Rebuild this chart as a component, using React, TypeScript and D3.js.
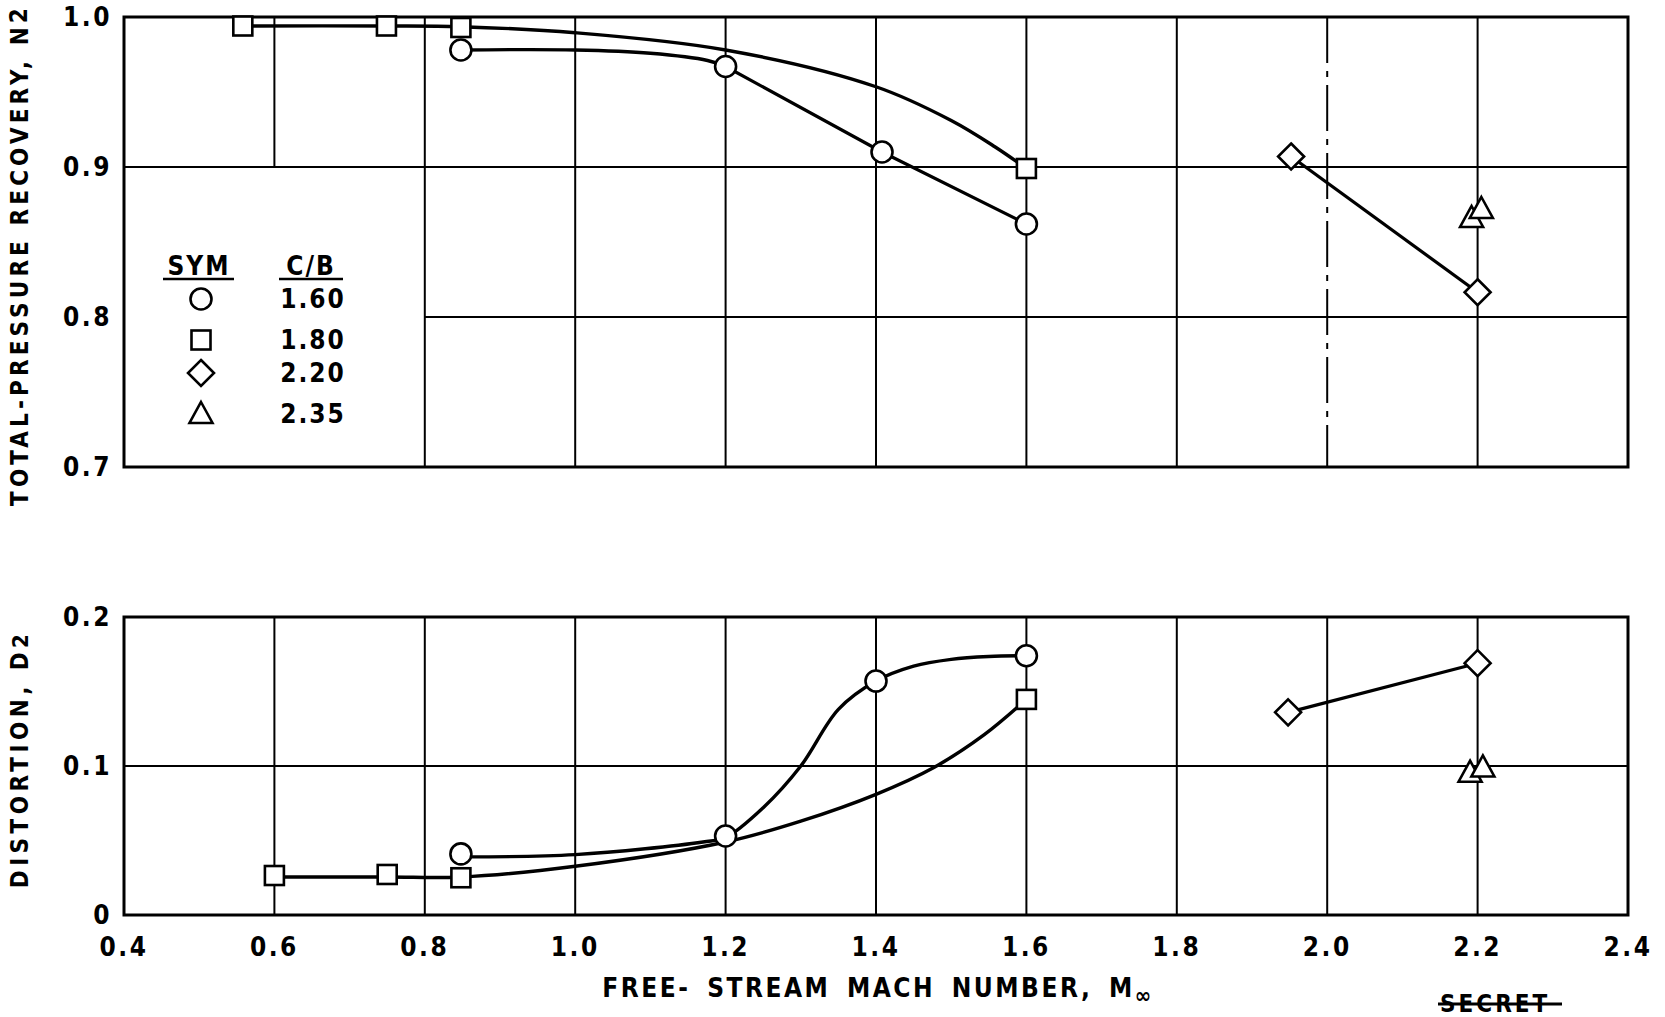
import * as d3 from "d3";

const W = 1665;
const H = 1017;

// axis ticks
const machTicks = [0.4, 0.6, 0.8, 1.0, 1.2, 1.4, 1.6, 1.8, 2.0, 2.2, 2.4];
const machLabels = ["0.4", "0.6", "0.8", "1.0", "1.2", "1.4", "1.6", "1.8", "2.0", "2.2", "2.4"];
const recoveryTicks = [0.7, 0.8, 0.9, 1.0];
const recoveryLabels = ["0.7", "0.8", "0.9", "1.0"];
const distortionTicks = [0, 0.1, 0.2];
const distortionLabels = ["0", "0.1", "0.2"];

// legend
const legendSyms = ["circle", "square", "diamond", "triangle"];
const legendCB = ["1.60", "1.80", "2.20", "2.35"];

// total-pressure recovery, test points [M, N2]
const rec160 = [[0.848, 0.978], [1.2, 0.967], [1.408, 0.91], [1.6, 0.862]];
const rec180 = [[0.558, 0.994], [0.749, 0.994], [0.848, 0.993], [1.6, 0.899]];
const rec220 = [[1.952, 0.907], [2.2, 0.8165]];
const rec235 = [[2.192, 0.866], [2.205, 0.872]];
// faired curves
const rec160Fair = [[0.848, 0.978], [1.0, 0.978], [1.1, 0.9758], [1.176, 0.971], [1.2, 0.967]];
const rec160Seg = [[1.2, 0.967], [1.408, 0.91], [1.6, 0.862]];
const rec180Fair = [[0.558, 0.994], [0.749, 0.994], [0.848, 0.9935], [1.0, 0.9895], [1.2, 0.978], [1.4, 0.9535], [1.5, 0.931], [1.558, 0.9135], [1.6, 0.899]];

// distortion, test points [M, D2]
const dis160 = [[0.848, 0.041], [1.2, 0.053], [1.4, 0.157], [1.6, 0.174]];
const dis180 = [[0.6, 0.0265], [0.75, 0.0272], [0.848, 0.025], [1.6, 0.1447]];
const dis220 = [[1.948, 0.136], [2.2, 0.169]];
const dis235 = [[2.19, 0.0955], [2.207, 0.099]];
const dis160Fair = [[0.848, 0.039], [1.0, 0.0405], [1.17, 0.049], [1.2, 0.052], [1.25, 0.072], [1.3, 0.1], [1.35, 0.138], [1.4, 0.157], [1.45, 0.167], [1.5, 0.1716], [1.55, 0.1735], [1.6, 0.174]];
const dis180Fair = [[0.6, 0.0255], [0.75, 0.0255], [0.848, 0.0255], [1.0, 0.0327], [1.2, 0.049], [1.3, 0.063], [1.4, 0.081], [1.477, 0.099], [1.544, 0.121], [1.6, 0.1447]];

const FONT = "'DejaVu Sans Condensed', 'DejaVu Sans', sans-serif";
const left = 124;
const right = 1628;

const x = d3.scaleLinear().domain([0.4, 2.4]).range([left, right]);
const yRec = d3.scaleLinear().domain([0.7, 1.0]).range([467, 17]);
const yDis = d3.scaleLinear().domain([0, 0.2]).range([915, 617]);

function Marker({ kind, cx, cy }: { kind: string; cx: number; cy: number }) {
  const st = { fill: "#fff", stroke: "#000", strokeWidth: 2.6 };
  if (kind === "circle") return <circle cx={cx} cy={cy} r={10.5} {...st} />;
  if (kind === "square") return <rect x={cx - 9.5} y={cy - 9.5} width={19} height={19} {...st} />;
  if (kind === "diamond")
    return <path d={`M${cx},${cy - 13}L${cx + 13},${cy}L${cx},${cy + 13}L${cx - 13},${cy}Z`} {...st} />;
  return <path d={`M${cx},${cy - 12}L${cx + 11.5},${cy + 9}L${cx - 11.5},${cy + 9}Z`} {...st} />;
}

function Panel({ y, ticks, labels, series, fairs, straight }: any) {
  const line = d3.line<number[]>().x((d) => x(d[0])).y((d) => y(d[1])).curve(d3.curveCatmullRom.alpha(0.5));
  const seg = d3.line<number[]>().x((d) => x(d[0])).y((d) => y(d[1]));
  return (
    <g>
      {ticks.map((t: number, i: number) => (
        <text key={i} x={112} y={y(t) + 9} textAnchor="end" fontSize={26} fontWeight="bold" letterSpacing={2.5}>
          {labels[i]}
        </text>
      ))}
      {fairs.map((f: number[][], i: number) => (
        <path key={"f" + i} d={line(f) || ""} fill="none" stroke="#000" strokeWidth={3.4} />
      ))}
      {straight.map((f: number[][], i: number) => (
        <path key={"s" + i} d={seg(f) || ""} fill="none" stroke="#000" strokeWidth={3.2} />
      ))}
      {series.map((s: number[][], i: number) =>
        s.map((d, j) => <Marker key={i + "-" + j} kind={legendSyms[i]} cx={x(d[0])} cy={y(d[1])} />)
      )}
    </g>
  );
}

export default function App() {
  const topY0 = yRec(1.0);
  const topY1 = yRec(0.7);
  const botY0 = yDis(0.2);
  const botY1 = yDis(0);
  const inner = machTicks.slice(1, -1);

  return (
    <div style={{ position: "fixed", left: 0, top: 0 }}>
      <svg width={W} height={H} style={{ display: "block", background: "#fff", fontFamily: FONT }}>
        {/* grids */}
        <g stroke="#000" strokeWidth={2}>
          {inner.map((t) => (
            <line
              key={t}
              x1={x(t)}
              x2={x(t)}
              y1={topY0}
              y2={t === 0.6 ? yRec(0.9) : topY1}
              strokeDasharray={t === 2.0 ? "46 8 6 8" : undefined}
            />
          ))}
          <line x1={left} x2={right} y1={yRec(0.9)} y2={yRec(0.9)} />
          <line x1={x(0.8)} x2={right} y1={yRec(0.8)} y2={yRec(0.8)} />
          {inner.map((t) => (
            <line key={"b" + t} x1={x(t)} x2={x(t)} y1={botY0} y2={botY1} />
          ))}
          <line x1={left} x2={right} y1={yDis(0.1)} y2={yDis(0.1)} />
        </g>
        <rect x={left} y={topY0} width={right - left} height={topY1 - topY0} fill="none" stroke="#000" strokeWidth={3} />
        <rect x={left} y={botY0} width={right - left} height={botY1 - botY0} fill="none" stroke="#000" strokeWidth={3} />

        <Panel
          y={yRec}
          ticks={recoveryTicks}
          labels={recoveryLabels}
          series={[rec160, rec180, rec220, rec235]}
          fairs={[rec160Fair, rec180Fair]}
          straight={[rec160Seg, rec220]}
        />
        <Panel
          y={yDis}
          ticks={distortionTicks}
          labels={distortionLabels}
          series={[dis160, dis180, dis220, dis235]}
          fairs={[dis160Fair, dis180Fair]}
          straight={[dis220]}
        />

        {/* x tick labels */}
        {machTicks.map((t, i) => (
          <text key={t} x={x(t)} y={956} textAnchor="middle" fontSize={26} fontWeight="bold" letterSpacing={2.5}>
            {machLabels[i]}
          </text>
        ))}
        <text x={878} y={997} textAnchor="middle" fontSize={26} fontWeight="bold" letterSpacing={2.5} wordSpacing={6}>
          FREE- STREAM MACH NUMBER, M
          <tspan fontSize={22} dy={6}>∞</tspan>
        </text>

        {/* y titles */}
        <text transform="translate(28,255) rotate(-90)" textAnchor="middle" fontSize={24} fontWeight="bold" letterSpacing={4.1}>
          TOTAL-PRESSURE RECOVERY, N<tspan dy={-1}>2</tspan>
        </text>
        <text transform="translate(28,759) rotate(-90)" textAnchor="middle" fontSize={24} fontWeight="bold" letterSpacing={4.4}>
          DISTORTION, D<tspan fontSize={22}>2</tspan>
        </text>

        {/* legend */}
        <g fontWeight="bold" fontSize={26} letterSpacing={2}>
          <text x={199} y={275} textAnchor="middle">SYM</text>
          <text x={311} y={275} textAnchor="middle">C/B</text>
          <line x1={163} x2={234} y1={279} y2={279} stroke="#000" strokeWidth={2.5} />
          <line x1={279} x2={343} y1={279} y2={279} stroke="#000" strokeWidth={2.5} />
          {legendCB.map((v, i) => {
            const cy = [299, 340, 373, 414][i];
            return (
              <g key={v}>
                <Marker kind={legendSyms[i]} cx={201} cy={cy} />
                <text x={313} y={cy + 9} textAnchor="middle">{v}</text>
              </g>
            );
          })}
        </g>

        {/* stamp */}
        <text x={1440} y={1012} fontSize={24} fontWeight="bold" letterSpacing={3}>SECRET</text>
        <line x1={1438} x2={1562} y1={1004} y2={1004} stroke="#000" strokeWidth={3} />
      </svg>
    </div>
  );
}
